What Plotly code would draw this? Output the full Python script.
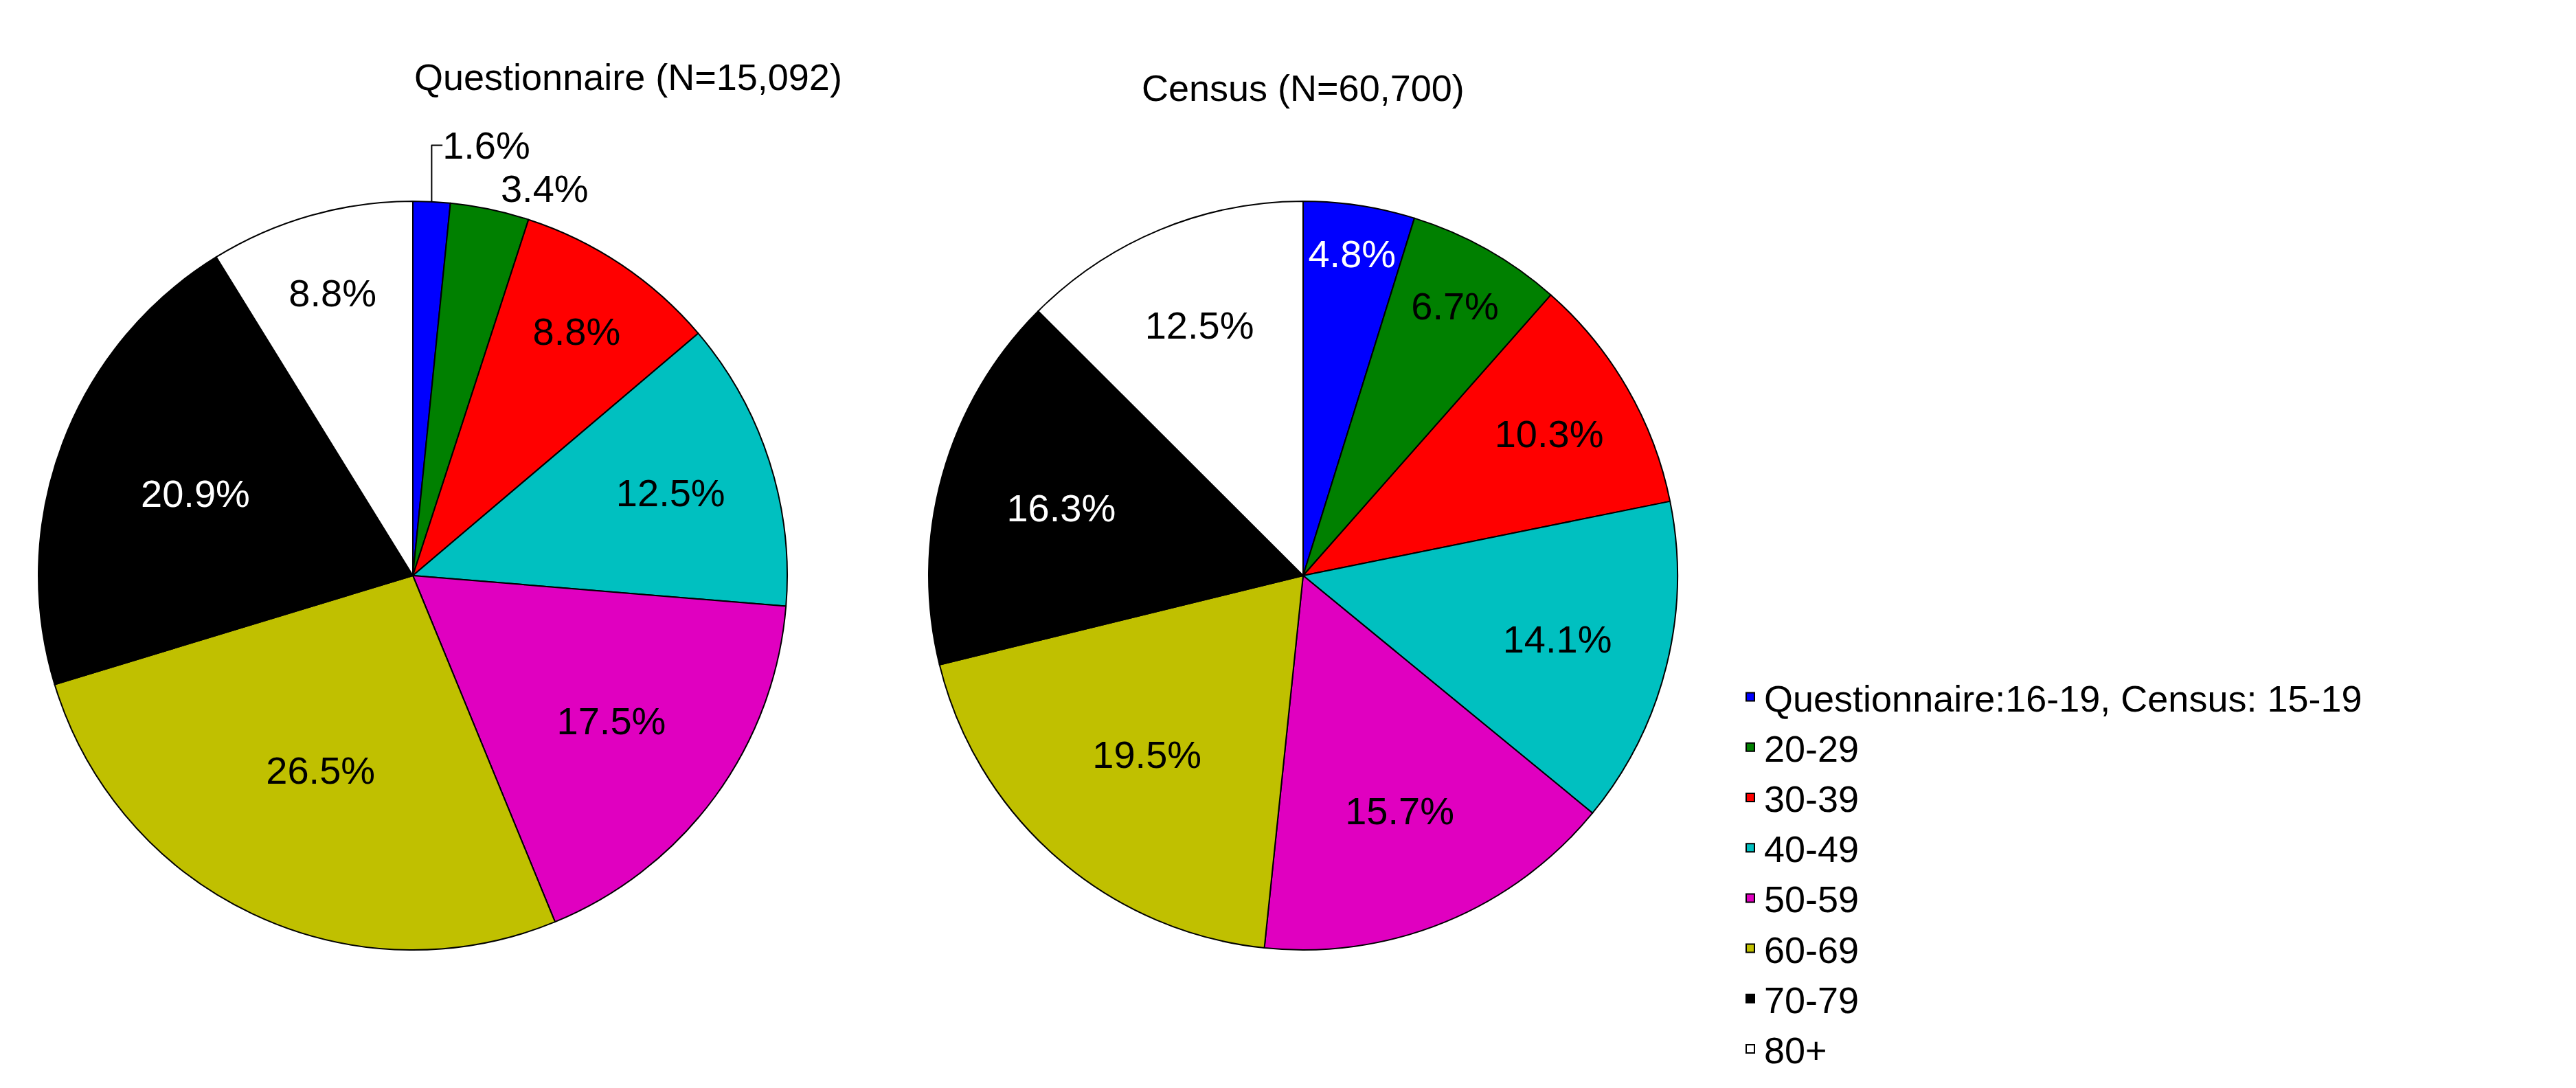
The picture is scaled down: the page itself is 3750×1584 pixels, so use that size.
import plotly.graph_objects as go

labels = ["Questionnaire:16-19, Census: 15-19", "20-29", "30-39", "40-49", "50-59", "60-69", "70-79", "80+"]
colors = ["#0000ff", "#008000", "#ff0000", "#00c0c0", "#e000c0", "#c0c000", "#000000", "#ffffff"]
questionnaire = [1.6, 3.4, 8.8, 12.5, 17.5, 26.5, 20.9, 8.8]
census = [4.8, 6.7, 10.3, 14.1, 15.7, 19.5, 16.3, 12.5]

W, H = 3750, 1584
FONT = "Liberation Sans, Arial, sans-serif"

def pie(vals, cx, r, cy, txtcolors, positions, show):
    return go.Pie(
        labels=labels, values=vals, text=[f"{v}%" for v in vals], textinfo="text",
        sort=False, direction="clockwise", rotation=0,
        marker=dict(colors=colors, line=dict(color="black", width=2)),
        textposition=positions, insidetextorientation="horizontal",
        insidetextfont=dict(color=txtcolors, size=56, family=FONT),
        outsidetextfont=dict(color="black", size=56, family=FONT),
        domain=dict(x=[(cx - r) / W, (cx + r) / W], y=[1 - (cy + r) / H, 1 - (cy - r) / H]),
        showlegend=show, hoverinfo="skip",
    )

fig = go.Figure()
fig.add_trace(pie(questionnaire, 593, 545, 830,
                  ["black"] * 6 + ["white", "black"],
                  ["outside", "outside"] + ["inside"] * 6, True))
fig.add_trace(pie(census, 1889, 545, 830,
                  ["white"] + ["black"] * 5 + ["white", "black"],
                  ["inside"] * 8, False))

fig.add_annotation(text="Questionnaire (N=15,092)", x=593 / W, y=1 - 72 / H, xref="paper", yref="paper",
                   showarrow=False, font=dict(size=54, family=FONT, color="black"))
fig.add_annotation(text="Census (N=60,700)", x=1889 / W, y=1 - 88 / H, xref="paper", yref="paper",
                   showarrow=False, font=dict(size=54, family=FONT, color="black"))

fig.update_layout(
    width=W, height=H, margin=dict(l=0, r=0, t=0, b=0),
    paper_bgcolor="white", plot_bgcolor="white",
    font=dict(family=FONT, color="black"),
    legend=dict(x=2520 / W, y=1 - 965 / H, xanchor="left", yanchor="top",
                font=dict(size=54, family=FONT, color="black"), traceorder="normal",
                itemsizing="constant"),
)
fig.write_html("out.html")
